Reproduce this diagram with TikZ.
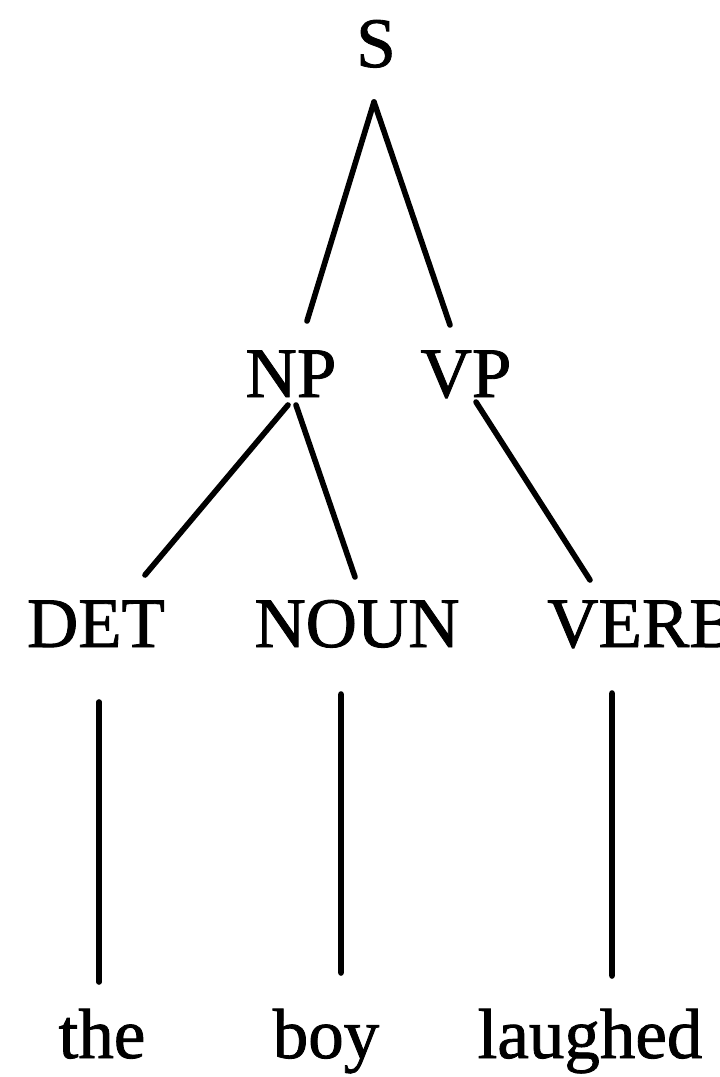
\documentclass[tikz,border=0pt]{standalone}
\usepackage{fontspec}
\setmainfont[FakeBold=1.2]{Liberation Serif}

\begin{document}
\begin{tikzpicture}
	\useasboundingbox (0,0) rectangle (7.2,-10.77);
	\tikzset{cat/.style={anchor=base,inner sep=0,outer sep=0,text height=0.47cm,text depth=0pt,font=\fontsize{20.2}{24}\selectfont},
		branch/.style={line width=1.6pt,line cap=round}}
	\node[cat] (s) at (3.76,-0.67) {S};
	\node[cat] (np) at (2.91,-3.97) {NP};
	\node[cat] (vp) at (4.66,-3.97) {VP};
	\node[cat] (det) at (0.96,-6.47) {DET};
	\node[cat] (noun) at (3.57,-6.47) {NOUN};
	\node[cat] (verb) at (6.42,-6.47) {VERB};
	\node[cat] (the) at (1.02,-10.58) {the};
	\node[cat] (boy) at (3.26,-10.58) {boy};
	\node[cat] (laughed) at (5.90,-10.58) {laughed};
	\draw[branch] ([shift={(-0.02,-0.35)}]s.south) -- ([shift={(0.16,0.29)}]np.north);
	\draw[branch] ([shift={(-0.02,-0.35)}]s.south) -- ([shift={(-0.16,0.25)}]vp.north);
	\draw[branch] ([shift={(-0.03,-0.08)}]np.south) -- ([shift={(0.49,0.25)}]det.north);
	\draw[branch] ([shift={(0.05,-0.08)}]np.south) -- ([shift={(-0.02,0.23)}]noun.north);
	\draw[branch] ([shift={(0.10,-0.05)}]vp.south) -- ([shift={(-0.52,0.20)}]verb.north);
	\draw[branch] ([shift={(0.03,-0.55)}]det.south) -- ([shift={(-0.03,0.29)}]the.north);
	\draw[branch] ([shift={(-0.16,-0.47)}]noun.south) -- ([shift={(0.15,0.38)}]boy.north);
	\draw[branch] ([shift={(-0.30,-0.46)}]verb.south) -- ([shift={(0.22,0.35)}]laughed.north);
\end{tikzpicture}
\end{document}
